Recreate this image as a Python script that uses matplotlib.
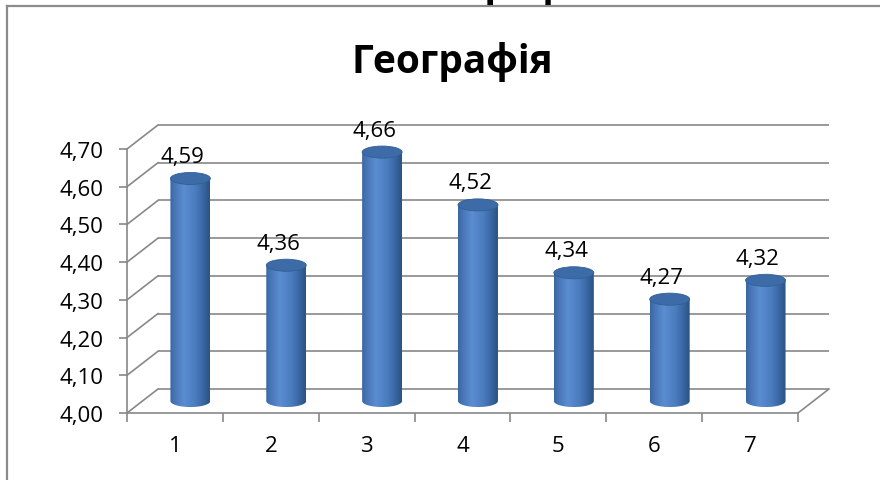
import numpy as np
import matplotlib
matplotlib.use("Agg")
import matplotlib.pyplot as plt
from matplotlib.colors import LinearSegmentedColormap
from matplotlib.patches import Ellipse, PathPatch
from matplotlib.path import Path

# --- data ---
categories = ['1', '2', '3', '4', '5', '6', '7']
values = [4.59, 4.36, 4.66, 4.52, 4.34, 4.27, 4.32]
value_labels = ['4,59', '4,36', '4,66', '4,52', '4,34', '4,27', '4,32']
y_ticks = [4.00, 4.10, 4.20, 4.30, 4.40, 4.50, 4.60, 4.70]
y_tick_labels = ['4,00', '4,10', '4,20', '4,30', '4,40', '4,50', '4,60', '4,70']
title = 'Географія'

plt.rcParams['font.family'] = ['Open Sans', 'DejaVu Sans']

W, H = 880, 481
fig = plt.figure(figsize=(W / 100, H / 100), dpi=100)

# front plane of the 3d box
ax = fig.add_axes([127 / W, (H - 414) / H, 671 / W, 264 / H])
x = np.arange(1, len(categories) + 1)
x0, x1 = 0.5, len(categories) + 0.5
y0, y1 = y_ticks[0], y_ticks[-1]
ax.set_xlim(x0, x1)
ax.set_ylim(y0, y1)

# depth offset of the back wall (in data units)
ddx = 0.323
ddy = 0.0636

grid_color = '#888888'
lw = 1.2

# back wall gridlines and left wall diagonals
for t in y_ticks:
    ax.plot([x0 + ddx, x1 + ddx], [t + ddy, t + ddy], color=grid_color, lw=lw,
            clip_on=False, zorder=1, solid_capstyle='butt')
    ax.plot([x0, x0 + ddx], [t, t + ddy], color=grid_color, lw=lw,
            clip_on=False, zorder=1)
# floor right edge
ax.plot([x1, x1 + ddx], [y0, y0 + ddy], color=grid_color, lw=lw, clip_on=False, zorder=1)

# cylinders
cmap = LinearSegmentedColormap.from_list('cyl', [
    (0.0, '#3a66a0'), (0.12, '#4877b8'), (0.35, '#5b8dd1'),
    (0.65, '#4a7bbd'), (0.9, '#335f95'), (1.0, '#2b5283')])
grad = np.linspace(0, 1, 256).reshape(1, -1)
cw = 0.417
eh = 0.032
for xi, v in zip(x, values):
    cx = xi + ddx / 2
    yb = y0 + ddy / 2
    yt = v + ddy / 2
    left, right = cx - cw / 2, cx + cw / 2
    # body outline: rectangle with rounded bottom
    th = np.linspace(np.pi, 2 * np.pi, 40)
    bx = cx + cw / 2 * np.cos(th)
    by = yb + eh / 2 * np.sin(th)
    verts = [(left, yt)] + list(zip(bx, by)) + [(right, yt), (left, yt)]
    body = PathPatch(Path(verts), facecolor='none', edgecolor='none', zorder=3)
    ax.add_patch(body)
    body.set_clip_on(False)
    im = ax.imshow(grad, cmap=cmap, aspect='auto', extent=[left, right, yb - eh, yt],
                   zorder=3, interpolation='bilinear')
    im.set_clip_box(None)
    im.set_clip_path(body)
    top = Ellipse((cx, yt), cw, eh, facecolor='#3d6ba8', edgecolor='#335f97',
                  lw=0.6, zorder=4, clip_on=False)
    ax.add_patch(top)

# data labels
for xi, v, lab in zip(x, values, value_labels):
    ax.annotate(lab, (xi + ddx / 4, v + ddy / 2 + eh / 2), xytext=(0, 4),
                textcoords='offset points', ha='center', va='bottom',
                fontsize=16, color='black', annotation_clip=False, zorder=5)

# axes styling
for side in ['top', 'right']:
    ax.spines[side].set_visible(False)
for side in ['left', 'bottom']:
    ax.spines[side].set_color(grid_color)
    ax.spines[side].set_linewidth(lw)
    ax.spines[side].set_zorder(2)
ax.patch.set_visible(False)

ax.set_yticks(y_ticks)
ax.set_yticklabels(y_tick_labels)
ax.set_xticks(x)
ax.set_xticklabels(categories)
ax.set_xticks(np.arange(x0, x1 + 0.01, 1.0), minor=True)
ax.tick_params(axis='y', direction='out', length=6, width=lw, color=grid_color,
               labelsize=16, pad=11)
ax.tick_params(axis='x', which='major', length=0, labelsize=16, pad=16)
ax.tick_params(axis='x', which='minor', direction='out', length=6.5, width=lw,
               color=grid_color)

# chart title
fig.text(452 / W, 1 - 73 / H, title, ha='center', va='baseline',
         fontsize=28, fontweight='bold')
# heading above the chart, mostly cut off by the page edge
fig.text(498 / W, 1 + 4 / H, title, ha='center', va='baseline',
         fontsize=28, fontweight='bold')

# chart area border
border = '#8c8c8c'
fig.add_artist(plt.Line2D([7 / W, 1], [1 - 7 / H, 1 - 7 / H], color=border, lw=1.6))
fig.add_artist(plt.Line2D([7 / W, 7 / W], [1 - 7 / H, 0], color=border, lw=1.6))

fig.savefig('out.png', dpi=100)
